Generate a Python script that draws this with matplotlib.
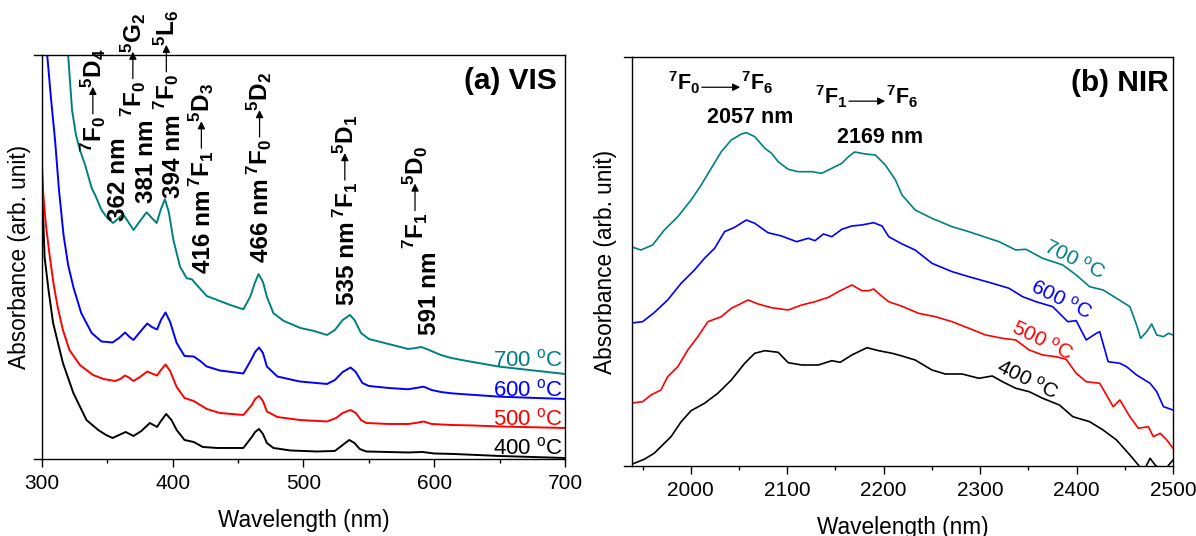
import matplotlib
matplotlib.use("Agg")
import matplotlib.pyplot as plt
from matplotlib.ticker import MultipleLocator
from matplotlib.transforms import blended_transform_factory

plt.rcParams['font.family'] = ['Liberation Sans', 'DejaVu Sans']
plt.rcParams['mathtext.default'] = 'regular'

# --- (a) VIS absorbance, arb. units ---
vis_wl_400 = [300, 302, 305, 308.5, 316, 324, 334, 343, 349, 354, 359, 364, 370, 376, 382.5, 388, 391, 395, 399, 403,
              409, 416, 423, 434, 454, 460.5, 463, 466, 469, 472, 477, 490, 510, 524, 530, 535, 539, 543, 548, 580,
              591, 600, 615, 650, 700]
vis_400 = [275, 202, 169, 136, 96, 66, 39, 29, 24, 21, 24, 27, 23, 28, 36, 32, 38, 45, 39, 29,
           19, 17, 12, 11, 11, 22, 27, 30, 25, 16, 11, 8.5, 7.5, 8, 14, 19, 16, 10, 7.5, 6.5,
           7, 5.5, 5, 3, 1]

vis_wl_500 = [300, 301, 303, 306, 309, 312, 316, 321, 329, 339, 347, 356, 360, 363.5, 367, 370, 375, 380.5, 384, 388,
              391, 394.5, 398, 403, 409, 416, 421, 426, 436, 454, 460.5, 463, 466, 469, 472, 480, 497, 518, 525, 530,
              536, 540, 544, 548, 565, 580, 586, 592, 598, 613, 630, 650, 700]
vis_500 = [294, 265, 234, 202, 174, 152, 129, 109, 94, 84, 80, 78, 80, 83.5, 81, 78, 82, 87.5, 85.5, 83.5,
           89, 94.5, 88, 72, 61, 58, 54, 50, 46, 44, 54, 60, 63, 58, 47.5, 42, 39, 37.5, 41, 46,
           49, 46, 39, 36, 35, 35, 36, 37.5, 35, 34, 33.5, 32.5, 31]

vis_wl_600 = [302.5, 304, 307, 310, 313, 316.5, 320, 324, 330, 338, 345.5, 354, 359, 363.5, 367, 370, 375, 380.5, 384, 388,
              391, 394.5, 398, 403, 409, 416, 421, 426, 436, 454, 460.5, 463, 466, 469, 472, 480, 497, 518, 524, 530,
              536, 540, 545, 550, 565, 580, 586, 592, 598, 605, 613, 620, 650, 700]
vis_600 = [419, 404, 359, 319, 269, 224, 194, 172, 146, 126, 117.5, 116.5, 121, 126.5, 122, 119, 127, 135.5, 132, 129.5,
           139, 146.5, 137, 116, 103, 102.5, 98, 92.5, 88.5, 85.5, 100.5, 107, 111.5, 106, 92.5, 82.5, 77.5, 75, 79, 87,
           91.5, 87, 76, 73, 71, 69.7, 71, 72.3, 69, 67, 65.7, 65, 62.3, 60]

vis_wl_700 = [318.5, 320, 323, 326, 329, 333, 338, 341, 345.5, 350, 354.4, 358, 362, 366, 370, 375, 380, 384, 387.7, 391,
              394, 397, 400.5, 405.6, 410.7, 414.6, 418.4, 426, 444, 454, 459.3, 462.5, 465.6, 469, 472, 477, 485, 497.6, 508, 518,
              524, 530, 535.5, 539, 544, 550, 565, 580, 586, 590, 596, 605, 613, 625, 650, 700]
vis_700 = [419, 404, 349, 324, 309, 294, 271, 263, 249, 241, 236, 240, 245, 237, 229, 238, 246.7, 241, 236, 250,
           259.7, 247, 219, 192.3, 180.7, 179.7, 174, 163, 154, 149.7, 162.3, 175, 185, 177, 162.3, 145.7, 138, 131, 128, 124,
           129, 139, 144, 139, 126, 120, 115, 110, 111, 112, 109, 104, 101, 98, 92.3, 85]

# --- (b) NIR absorbance, arb. units ---
nir_wl_400 = [1939, 1941.3, 1951.7, 1962, 1979.5, 1990, 2000.3, 2014.2, 2028, 2042, 2055.9, 2066.3, 2076.7, 2090.6, 2101,
              2115, 2132.3, 2146.2, 2154.9, 2167, 2182.6, 2194.8, 2208.7, 2219, 2232.6, 2250, 2263.9, 2281.3, 2298.7,
              2312.6, 2323.1, 2337, 2350.9, 2364.8, 2382.2, 2396.1, 2413.5, 2427.5, 2441.4, 2455.3, 2464, 2469.2,
              2476.2, 2481.4, 2490.1, 2497, 2500]
nir_400 = [2, 2.7, 6.7, 12.7, 29.3, 44.3, 55.3, 62.7, 72.7, 86, 102.7, 112.7, 115.3, 113.7, 103.3,
           101, 101, 105.3, 103.7, 111, 118.3, 115.3, 112.7, 110, 106, 96, 92, 92, 87.7,
           90, 84.3, 77.7, 74.3, 67.7, 61, 49.3, 44.3, 36, 26, 11, 1, -5.7,
           7.7, 1, -5.7, 2.7, 6]

nir_wl_500 = [1939, 1950, 1958.7, 1969, 1976, 1986.5, 1996.9, 2007.3, 2017.7, 2031.6, 2042, 2049, 2059.4, 2069.8, 2083.7,
              2101, 2115, 2128.8, 2142.7, 2153, 2167, 2177.4, 2184.4, 2189.6, 2196.5, 2205.2, 2219, 2236.1, 2253.5,
              2270.9, 2288.3, 2305.7, 2323.1, 2337, 2350.9, 2364.8, 2378.7, 2389.2, 2399.6, 2410, 2424, 2437.9,
              2444.9, 2455.3, 2464, 2474.4, 2479.6, 2486.6, 2493.6, 2500]
nir_500 = [63, 64.3, 71, 76, 89.3, 99.3, 116, 129.3, 144.3, 149.3, 157.7, 161, 166, 162, 158.3,
           156, 161, 164.3, 168.7, 174.3, 181, 175.3, 175.3, 177, 171, 164.3, 159.7, 152.7, 149.3,
           144.3, 137.7, 131, 127.7, 126, 116, 111, 109.3, 106.7, 92.7, 84.3, 82.7, 59.3,
           66, 49.3, 37.7, 39.3, 29.3, 32.7, 26, 17.7]

nir_wl_600 = [1939, 1950, 1962, 1976, 1990, 2003.8, 2014.2, 2024.7, 2035, 2045.5, 2057.6, 2066.3, 2080, 2094, 2109.7,
              2121.9, 2128.8, 2137.5, 2146.2, 2156.6, 2167, 2177.4, 2189.6, 2198.3, 2205.2, 2219, 2232.6, 2250,
              2270.9, 2288.3, 2312.6, 2330, 2344, 2357.9, 2375.3, 2385.7, 2390.9, 2399.6, 2410, 2420.5, 2424,
              2432.7, 2444.9, 2451.8, 2462.2, 2476.2, 2483.1, 2490.1, 2500]
nir_600 = [143, 144.3, 153.3, 166, 182.7, 196, 207.7, 217.7, 234.3, 238.7, 246, 242.7, 233.3, 230, 224.3,
           227.7, 225.3, 232, 229.3, 236.7, 240, 241, 243.3, 240, 229.3, 222, 216, 202.7,
           194.3, 189.3, 182.7, 177.7, 169.3, 164.3, 159.3, 149.3, 144.3, 145.3, 126, 132.7, 134.3,
           104.3, 102.7, 99.3, 91, 82.7, 74.3, 59.3, 56]

nir_wl_700 = [1939, 1948.3, 1960.4, 1972.6, 1986.5, 2000.3, 2010.8, 2021.2, 2031.6, 2042, 2052.4, 2057.6, 2066.3, 2076.7,
              2083.7, 2090.6, 2101, 2111.5, 2125.3, 2135.8, 2146.2, 2156.6, 2163.5, 2169.8, 2180.9, 2191.3, 2201.7,
              2212.2, 2219, 2232.6, 2250, 2270.9, 2288.3, 2305.7, 2319.6, 2337, 2347.4, 2364.8, 2385.7, 2399.6,
              2413.5, 2427.5, 2441.4, 2455.3, 2462.2, 2466.4, 2472.7, 2477.9, 2483.1, 2490.1, 2495.3, 2500]
nir_700 = [219, 216, 221, 236, 249.3, 266, 281, 297.7, 314.3, 326, 332, 333.3, 329.3, 317.7,
           312.7, 304.3, 296.7, 294.3, 294.3, 292.7, 297.7, 302.7, 309.3, 314, 312, 311, 301,
           286, 271, 256, 247.7, 239.3, 234.3, 228.7, 224.3, 216, 216.7, 207.7, 201, 191,
           179.3, 176, 167.7, 159.3, 141, 127.7, 134.3, 142, 131, 129.3, 132.7, 131]

temps = ['400', '500', '600', '700']
colors = ['black', '#ff0000', '#0000ff', '#008080']

# Eu3+ absorption lines in the visible: wavelength label, lower and upper level
peak_nm = ['362 nm', '381 nm', '394 nm', '416 nm', '466 nm', '535 nm', '591 nm']
peak_lo = ['$^{7}$F$_{0}$', '$^{7}$F$_{0}$', '$^{7}$F$_{0}$', '$^{7}$F$_{1}$', '$^{7}$F$_{0}$', '$^{7}$F$_{1}$', '$^{7}$F$_{1}$']
peak_up = ['$^{5}$D$_{4}$', '$^{5}$G$_{2}$', '$^{5}$L$_{6}$', '$^{5}$D$_{3}$', '$^{5}$D$_{2}$', '$^{5}$D$_{1}$', '$^{5}$D$_{0}$']
nm_pos = [(363.4, 0.590), (384.9, 0.634), (405.6, 0.646), (428.6, 0.460), (473.1, 0.488), (538.3, 0.381), (601.0, 0.307)]
# None: transition follows the wavelength on the same line
trans_pos = [(345.6, 0.760), (376.2, 0.847), (401.8, 0.864), None, None, None, (592.0, 0.520)]

fig = plt.figure(figsize=(11.96, 5.36), dpi=100)
ax1 = fig.add_axes([0.0351, 0.1437, 0.4373, 0.7537])
ax2 = fig.add_axes([0.5284, 0.1306, 0.4524, 0.7631])

vis = [(vis_wl_400, vis_400), (vis_wl_500, vis_500), (vis_wl_600, vis_600), (vis_wl_700, vis_700)]
nir = [(nir_wl_400, nir_400), (nir_wl_500, nir_500), (nir_wl_600, nir_600), (nir_wl_700, nir_700)]

for (x, y), c in zip(vis, colors):
    ax1.plot(x, y, color=c, lw=1.4)
for (x, y), c in zip(nir, colors):
    ax2.plot(x, y, color=c, lw=1.2)

ax1.set_xlim(300, 700)
ax1.set_ylim(0, 404)
ax2.set_xlim(1939, 2500)
ax2.set_ylim(0, 409)

for ax in (ax1, ax2):
    ax.set_yticks([])
    ax.xaxis.set_major_locator(MultipleLocator(100))
    ax.xaxis.set_minor_locator(MultipleLocator(50))
    ax.tick_params(axis='x', which='both', direction='out', labelsize=15, pad=5, width=1)
    ax.tick_params(axis='x', which='major', length=5.5)
    ax.tick_params(axis='x', which='minor', length=3)
    for s in ax.spines.values():
        s.set_linewidth(1.0)
    # axis lines run a little past the left edge
    ax.plot([-0.015, 0], [0, 0], transform=ax.transAxes, color='k', lw=1.0, clip_on=False)
    ax.plot([-0.015, 0], [1, 1], transform=ax.transAxes, color='k', lw=1.0, clip_on=False)
    ax.set_xlabel('Wavelength (nm)', fontsize=16.3, labelpad=12)
    ax.set_ylabel('Absorbance (arb. unit)', fontsize=16.3)

ax1.yaxis.labelpad = 8
ax2.yaxis.labelpad = 11

ax1.text(0.985, 0.97, '(a) VIS', transform=ax1.transAxes, ha='right', va='top', fontsize=21.5, fontweight='bold')
ax2.text(0.992, 0.97, '(b) NIR', transform=ax2.transAxes, ha='right', va='top', fontsize=21.5, fontweight='bold')

# temperature labels
vis_lab_y = [0.012, 0.084, 0.156, 0.230]
for t, c, yy in zip(temps, colors, vis_lab_y):
    ax1.text(0.996, yy, t + ' $^{o}$C', transform=ax1.transAxes, ha='right', va='baseline', fontsize=16, color=c)

nir_lab_pos = [(0.730, 0.210), (0.758, 0.306), (0.794, 0.406), (0.817, 0.504)]
for t, c, (xx, yy) in zip(temps, colors, nir_lab_pos):
    ax2.text(xx, yy, t + ' $^{o}$C', transform=ax2.transAxes, ha='center', va='center', fontsize=15,
             color=c, rotation=-26)

# vertical peak labels, laid out in display pixels
renderer = fig.canvas.get_renderer()
tr = blended_transform_factory(ax1.transData, ax1.transAxes)
to_axes = ax1.transAxes.inverted()
fs = 17.5
fs_px = fs * fig.dpi / 72
arrow_kw = dict(arrowstyle='-|>', color='k', lw=0.9, mutation_scale=11, shrinkA=0, shrinkB=0)


def vtext(xd, yd, s):
    x, y = to_axes.transform((xd, yd))
    t = ax1.text(x, y, s, transform=ax1.transAxes, rotation=90, rotation_mode='anchor', ha='left',
                 va='baseline', fontsize=fs, fontweight='bold', clip_on=False)
    return t.get_window_extent(renderer)


for nm, lo, up, npos, tpos in zip(peak_nm, peak_lo, peak_up, nm_pos, trans_pos):
    xd, yd = tr.transform(npos)
    bb = vtext(xd, yd, nm)
    if tpos is None:
        tx, ty = xd, bb.y1 + 3
    else:
        tx, ty = tr.transform(tpos)
    bb = vtext(tx, ty, lo)
    xa = tx - 0.36 * fs_px
    ya, yb = bb.y1 + 2, bb.y1 + 29
    ax1.annotate('', xy=(xa, yb), xytext=(xa, ya), xycoords='figure pixels', arrowprops=arrow_kw,
                 annotation_clip=False)
    vtext(tx, yb - 1, up)

# 7F0,1 -> 7F6 in the NIR
nir_lines = [('$^{7}$F$_{0}$', '$^{7}$F$_{6}$', '2057 nm', 0.129, 0.200, 0.919, 0.218, 0.838),
             ('$^{7}$F$_{1}$', '$^{7}$F$_{6}$', '2169 nm', 0.401, 0.468, 0.885, 0.459, 0.790)]
for lo, up, nm, xa, xb, yb, xn, yn in nir_lines:
    ax2.text(xa - 0.002, yb, lo, transform=ax2.transAxes, ha='right', va='baseline', fontsize=15.5,
             fontweight='bold')
    ax2.annotate('', xy=(xb, yb + 0.007), xytext=(xa, yb + 0.007), xycoords='axes fraction', arrowprops=arrow_kw)
    ax2.text(xb + 0.002, yb, up, transform=ax2.transAxes, ha='left', va='baseline', fontsize=15.5,
             fontweight='bold')
    ax2.text(xn, yn, nm, transform=ax2.transAxes, ha='center', va='baseline', fontsize=15.5, fontweight='bold')

fig.savefig('out.png', dpi=100)
